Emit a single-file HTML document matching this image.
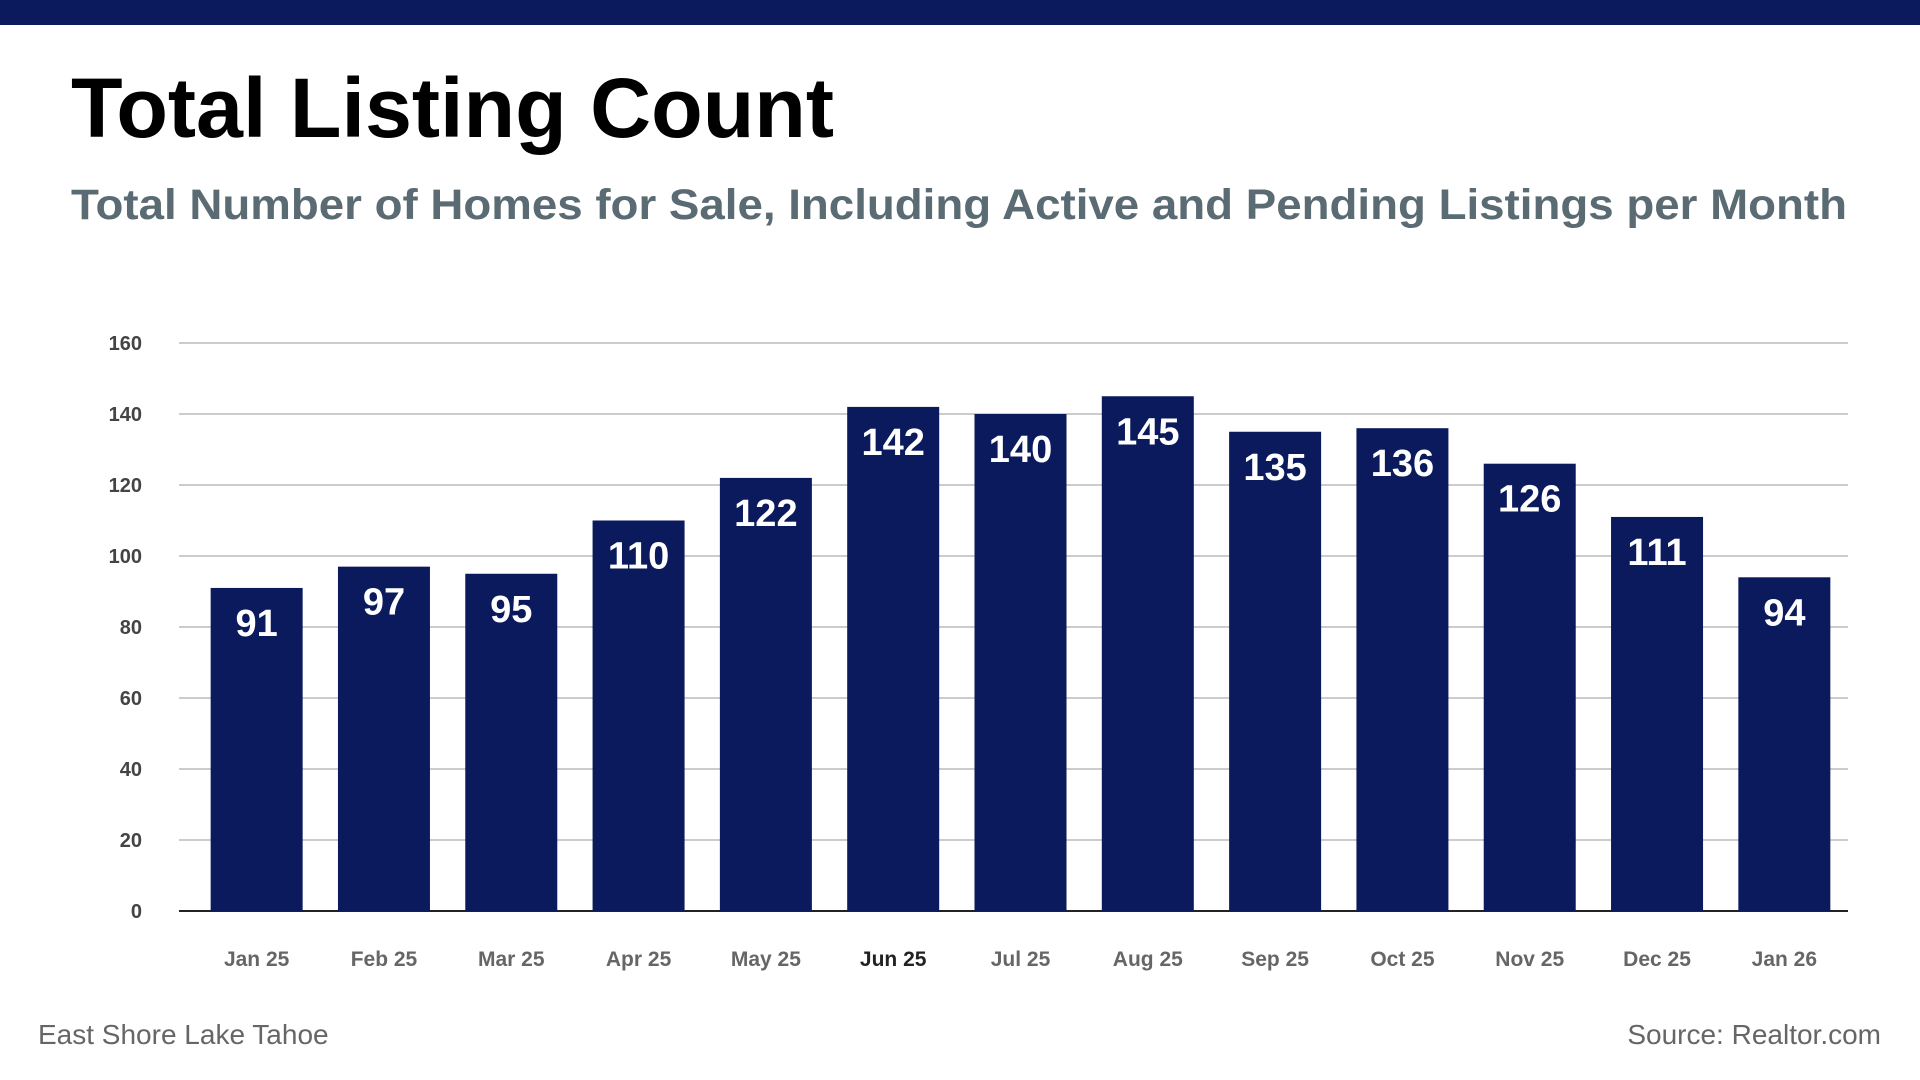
<!DOCTYPE html>
<html><head><meta charset="utf-8"><style>
html,body{margin:0;padding:0;background:#fff;width:1920px;height:1080px;overflow:hidden;font-family:"Liberation Sans",sans-serif}
</style></head><body>
<svg width="1920" height="1080" xmlns="http://www.w3.org/2000/svg">
<rect x="0" y="0" width="1920" height="25" fill="#0a1a5c"/>
<text x="71" y="137" font-size="84" font-weight="bold" fill="#000" textLength="763" lengthAdjust="spacingAndGlyphs">Total Listing Count</text>
<text x="71" y="219" font-size="43" font-weight="bold" fill="#5a6b73" textLength="1776" lengthAdjust="spacingAndGlyphs">Total Number of Homes for Sale, Including Active and Pending Listings per Month</text>
<g id="grid"></g><g id="bars"></g><g id="xl"></g>
<text x="38" y="1044" font-size="28" fill="#666">East Shore Lake Tahoe</text>
<text x="1881" y="1044" font-size="28" fill="#666" text-anchor="end">Source: Realtor.com</text>
</svg>
<script>
const categories=["Jan 25","Feb 25","Mar 25","Apr 25","May 25","Jun 25","Jul 25","Aug 25","Sep 25","Oct 25","Nov 25","Dec 25","Jan 26"];
const values=[91,97,95,110,122,142,140,145,135,136,126,111,94];
const yTicks=[0,20,40,60,80,100,120,140,160];
const NS="http://www.w3.org/2000/svg";
const x0=179,x1=1848,bx0=193,y0=911,y1=343,yMax=160;
const band=(x1-bx0)/categories.length,bw=92;
const y=v=>y0-(v/yMax)*(y0-y1);
const xc=i=>bx0+band*(i+0.5);
function mk(t,a,p){const e=document.createElementNS(NS,t);for(const k in a)e.setAttribute(k,a[k]);p.appendChild(e);return e;}
const g=document.getElementById('grid'),b=document.getElementById('bars'),xl=document.getElementById('xl');
yTicks.forEach(v=>{
 const l=mk('line',{x1:x0,x2:x1,y1:y(v),y2:y(v),stroke:v===0?'#222':'#bbb','stroke-width':v===0?2:1.5},g);
 
 
 const t=mk('text',{x:142,y:y(v)+7,'text-anchor':'end','font-size':20,'font-weight':'bold',fill:'#444'},g);
 t.textContent=v;
 
 
});
values.forEach((v,i)=>{
 const r=mk('rect',{x:xc(i)-bw/2,y:y(v),width:bw,height:y0-y(v),fill:'#0a1a5c'},b);
 
 
 const t=mk('text',{x:xc(i),y:y(v)+48,'text-anchor':'middle','font-size':38,'font-weight':'bold',fill:'#fff'},b);
 t.textContent=v;
 
 
 const c=mk('text',{x:xc(i),y:966,'text-anchor':'middle','font-size':21,'font-weight':'bold',fill:i===5?'#222':'#666'},xl);
 c.textContent=categories[i];
 
 
});
</script>
</body></html>
